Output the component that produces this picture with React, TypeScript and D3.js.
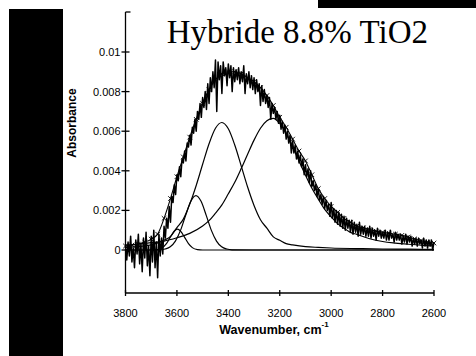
import React from "react";
import * as d3 from "d3";

// ---- data ----
const xTickValues = [3800, 3600, 3400, 3200, 3000, 2800, 2600];
const yTickValues = [0, 0.002, 0.004, 0.006, 0.008, 0.01];
const yTickLabels = ["0", "0.002", "0.004", "0.006", "0.008", "0.01"];

// measured spectrum, one value every 5 cm-1 from 3800 down to 2600, absorbance x 1e-4
const spectrumStart = 3800;
const spectrumStep = 5;
const spectrumV1e4 = [
  2, -5, 4, -3, 7, -6, 1, -9, 5, -2, 8, -7, 3, -11, 6, -4, 9, -8, 2, -13,
  7, -6, 10, -9, 4, -14, 8, -3, 6, -2, 12, 6, 16, 11, 22, 14, 27, 24, 33, 28,
  38, 35, 42, 37, 46, 44, 50, 45, 54, 52, 58, 53, 62, 59, 66, 60, 70, 66, 74, 67,
  77, 72, 80, 71, 84, 74, 87, 80, 90, 82, 96, 70, 95, 86, 93, 79, 95, 88, 92, 83,
  94, 87, 93, 80, 92, 85, 91, 86, 92, 84, 90, 85, 93, 79, 89, 84, 90, 82, 88, 81,
  87, 79, 86, 80, 84, 73, 83, 75, 81, 74, 78, 72, 77, 66, 74, 69, 72, 66, 70, 64,
  68, 61, 65, 59, 63, 56, 60, 54, 58, 49, 55, 49, 53, 46, 50, 44, 48, 42, 46, 38,
  43, 37, 41, 34, 40, 32, 35, 30, 33, 27, 31, 25, 28, 23, 27, 21, 25, 20, 23, 17,
  24, 16, 21, 14, 20, 13, 19, 12, 18, 11, 17, 10, 16, 11, 15, 9, 15, 8, 14, 9,
  13, 7, 14, 8, 12, 8, 12, 7, 11, 7, 12, 6, 11, 7, 10, 5, 11, 7, 10, 6,
  9, 6, 10, 5, 9, 5, 10, 6, 8, 4, 9, 5, 8, 5, 8, 3, 7, 4, 8, 3,
  7, 4, 7, 2, 6, 3, 6, 2, 6, 3, 5, 1, 6, 2, 5, 1, 5, 2, 5, 0,
  4,
];

// fitted envelope (drawn with x markers)
const fitW = [
  3800, 3775, 3750, 3725, 3700, 3675, 3650, 3625, 3600, 3575, 3550, 3525, 3500,
  3475, 3450, 3425, 3400, 3375, 3350, 3325, 3300, 3275, 3250, 3225, 3200, 3175,
  3150, 3125, 3100, 3075, 3050, 3025, 3000, 2975, 2950, 2925, 2900, 2875, 2850,
  2825, 2800, 2775, 2750, 2725, 2700, 2675, 2650, 2625, 2600,
];
const fitV = [
  0.0002, 0.00025, 0.0003, 0.0004, 0.00055, 0.0008, 0.0016, 0.0026, 0.0037,
  0.0047, 0.0057, 0.0066, 0.0074, 0.0081, 0.0086, 0.0089, 0.009, 0.009, 0.0089,
  0.0087, 0.0085, 0.0082, 0.0078, 0.0073, 0.0067, 0.0062, 0.0056, 0.005, 0.0045,
  0.0038, 0.0031, 0.0026, 0.0022, 0.0019, 0.0016, 0.0014, 0.0012, 0.00112,
  0.00103, 0.00095, 0.0009, 0.00085, 0.0008, 0.00074, 0.00066, 0.00056, 0.00048,
  0.0004, 0.00035,
];

// component bands
const peak1W = [3800, 3700, 3680, 3660, 3640, 3620, 3610, 3598, 3585, 3570, 3555, 3540, 3520, 3500, 3000, 2600];
const peak1V = [0, 0, 0.00001, 0.00009, 0.00034, 0.00077, 0.00096, 0.00105, 0.00094, 0.00064, 0.00032, 0.00012, 0.00002, 0, 0, 0];

const peak2W = [3800, 3700, 3666, 3646, 3626, 3606, 3586, 3566, 3546, 3526, 3506, 3486, 3466, 3446, 3426, 3406, 3386, 3300, 2600];
const peak2V = [0, 0, 0.00001, 0.00005, 0.00016, 0.00045, 0.00099, 0.00175, 0.00246, 0.00275, 0.00246, 0.00175, 0.00099, 0.00045, 0.00016, 0.00005, 0.00001, 0, 0];

const peak3W = [3800, 3700, 3650, 3625, 3600, 3575, 3550, 3525, 3500, 3475, 3450, 3425, 3400, 3375, 3350, 3325, 3300, 3275, 3250, 3225, 3200, 3175, 3150, 3100, 3050, 3000, 2900, 2800, 2700, 2600];
const peak3V = [0.00013, 0.00026, 0.0005, 0.00068, 0.00113, 0.00156, 0.00232, 0.00326, 0.00433, 0.00537, 0.00615, 0.00644, 0.00612, 0.0053, 0.00425, 0.00318, 0.00225, 0.00153, 0.0011, 0.00066, 0.00049, 0.00032, 0.00026, 0.00017, 0.00013, 0.0001, 0.00007, 0.00005, 0.00004, 0.00003];

const peak4W = [3800, 3750, 3700, 3650, 3600, 3550, 3500, 3475, 3450, 3425, 3400, 3375, 3350, 3325, 3300, 3275, 3250, 3225, 3200, 3175, 3150, 3125, 3100, 3075, 3050, 3025, 3000, 2975, 2950, 2925, 2900, 2850, 2800, 2750, 2700, 2650, 2600];
const peak4V = [0.00025, 0.0003, 0.00037, 0.00045, 0.00062, 0.00084, 0.00121, 0.00148, 0.00186, 0.00228, 0.00284, 0.00342, 0.00411, 0.00484, 0.00555, 0.00615, 0.00653, 0.00665, 0.00639, 0.00589, 0.00522, 0.00449, 0.00378, 0.00312, 0.00257, 0.00205, 0.00167, 0.00133, 0.0011, 0.00089, 0.00079, 0.00057, 0.00043, 0.00035, 0.00029, 0.00024, 0.00021];

const titleText = "Hybride 8.8% TiO2";
const xTitle = "Wavenumber, cm";
const xTitleSup = "-1";
const yTitle = "Absorbance";

const W = 476;
const H = 356;

export default function App() {
  const x = d3.scaleLinear().domain([3800, 2600]).range([125.5, 434]);
  const y = d3.scaleLinear().domain([0, 0.01]).range([250, 52]);
  const yTop = y.invert(12);
  const yBot = y.invert(293);

  const pairs = (ws: number[], vs: number[]) => ws.map((w, i) => [w, vs[i]] as [number, number]);
  const smooth = d3
    .line<[number, number]>()
    .x((d) => x(d[0]))
    .y((d) => y(d[1]))
    .curve(d3.curveMonotoneX);
  const straight = d3
    .line<[number, number]>()
    .x((d) => x(d[0]))
    .y((d) => y(d[1]));

  const spectrum = spectrumV1e4.map(
    (v, i) => [spectrumStart - i * spectrumStep, v * 1e-4] as [number, number]
  );
  const fit = pairs(fitW, fitV);
  const peaks = [
    pairs(peak1W, peak1V),
    pairs(peak2W, peak2V),
    pairs(peak3W, peak3V),
    pairs(peak4W, peak4V),
  ];

  const ms = 2.3;
  const markers = fit
    .map((d) => {
      const px = x(d[0]);
      const py = y(d[1]);
      return `M${px - ms},${py - ms}L${px + ms},${py + ms}M${px - ms},${py + ms}L${px + ms},${py - ms}`;
    })
    .join("");

  const sans = "'Liberation Sans', Arial, Helvetica, sans-serif";
  const serif = "'Liberation Serif', 'Times New Roman', serif";
  const axX = x(3800);
  const axY = y(yBot);

  return (
    <svg
      width={W}
      height={H}
      viewBox={`0 0 ${W} ${H}`}
      style={{ position: "absolute", left: 0, top: 0, background: "#fff" }}
    >
      <rect x={0} y={0} width={W} height={H} fill="#fff" />
      <rect x={9} y={9} width={54} height={H - 9} fill="#000" />
      <rect x={318} y={0} width={W - 318} height={8} fill="#000" />

      <text x={428} y={43} textAnchor="end" fontFamily={serif} fontSize={33} fill="#000">
        {titleText}
      </text>

      {/* curves */}
      <g fill="none" stroke="#000" strokeLinejoin="round">
        {peaks.map((p, i) => (
          <path key={i} d={smooth(p) || ""} strokeWidth={1.2} />
        ))}
        <path d={smooth(fit) || ""} strokeWidth={1.1} />
        <path d={markers} strokeWidth={0.9} />
        <path d={straight(spectrum) || ""} strokeWidth={1.5} />
      </g>

      {/* axes */}
      <g stroke="#000" strokeWidth={1.3} fill="none">
        <line x1={axX} y1={y(yTop)} x2={axX} y2={axY} />
        <line x1={axX} y1={y(yTop)} x2={axX + 5} y2={y(yTop)} />
        <line x1={axX} y1={axY} x2={x(2600)} y2={axY} />
        {yTickValues.map((v) => (
          <line key={v} x1={axX - 4} x2={axX + 4} y1={y(v)} y2={y(v)} />
        ))}
        {xTickValues.map((v) => (
          <line key={v} x1={x(v)} x2={x(v)} y1={axY - 3} y2={axY + 3} />
        ))}
      </g>

      <g fontFamily={sans} fontSize={11} fill="#000">
        {yTickValues.map((v, i) => (
          <text key={v} x={axX - 5} y={y(v) + 4} textAnchor="end">
            {yTickLabels[i]}
          </text>
        ))}
        {xTickValues.map((v) => (
          <text key={v} x={x(v)} y={316.5} textAnchor="middle">
            {v}
          </text>
        ))}
      </g>

      <text x={274} y={334} textAnchor="middle" fontFamily={sans} fontSize={12.5} fontWeight="bold" fill="#000">
        {xTitle}
        <tspan dy={-7} fontSize={8}>
          {xTitleSup}
        </tspan>
      </text>
      <text
        transform={`translate(76,123) rotate(-90)`}
        textAnchor="middle"
        fontFamily={sans}
        fontSize={12}
        fontWeight="bold"
        fill="#000"
      >
        {yTitle}
      </text>
    </svg>
  );
}
